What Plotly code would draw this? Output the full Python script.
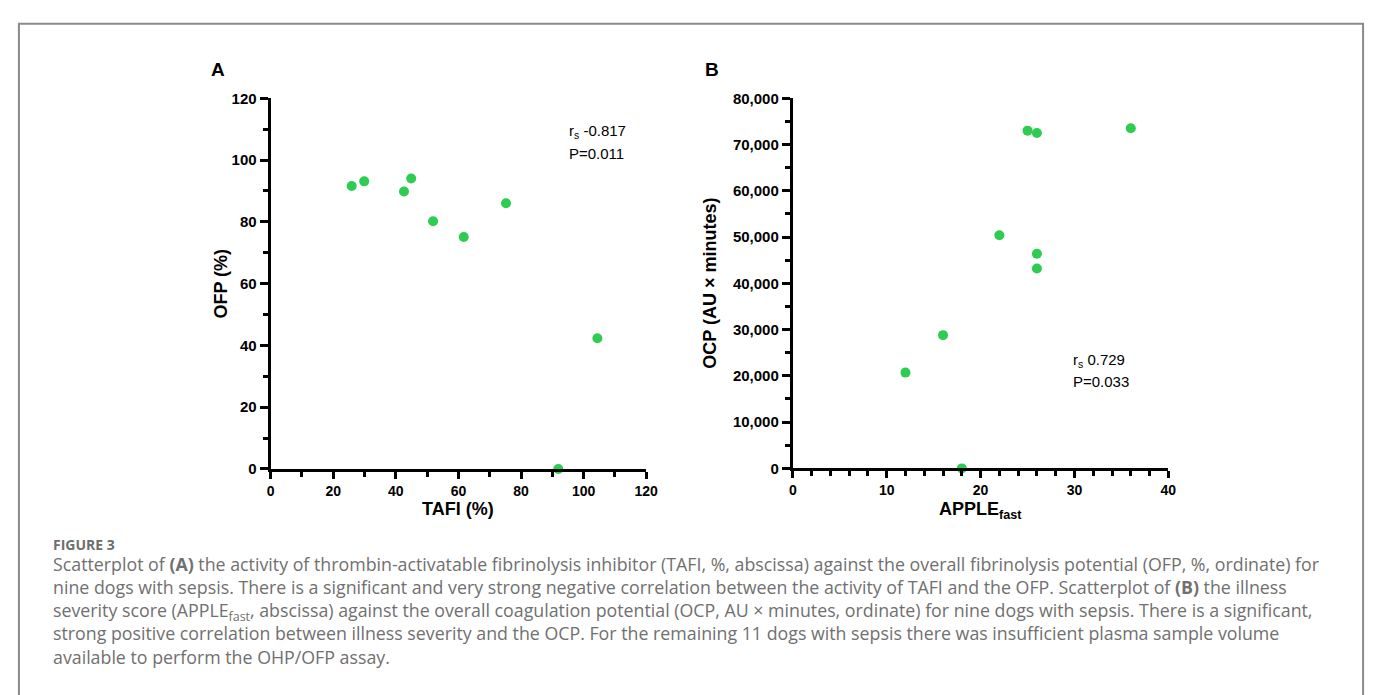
import plotly.graph_objects as go

# ---------------- data ----------------
tafi = [25.9, 29.9, 42.6, 44.9, 51.9, 61.7, 75.2, 91.9, 104.4]
ofp = [91.6, 93.1, 89.8, 94.0, 80.2, 75.1, 86.0, 0.0, 42.3]

apple_fast = [12, 16, 18, 22, 25, 26, 26, 26, 36]
ocp = [20700, 28800, 0, 50400, 73000, 72500, 46400, 43200, 73500]

panel_labels = ["A", "B"]
stat_a = ["r<sub>s</sub> -0.817", "P=0.011"]
stat_b = ["r<sub>s</sub> 0.729", "P=0.033"]

caption_title = "FIGURE 3"
caption_lines = [
    "Scatterplot of <b>(A)</b> the activity of thrombin-activatable fibrinolysis inhibitor (TAFI, %, abscissa) against the overall fibrinolysis potential (OFP, %, ordinate) for",
    "nine dogs with sepsis. There is a significant and very strong negative correlation between the activity of TAFI and the OFP. Scatterplot of <b>(B)</b> the illness",
    "severity score (APPLE<sub>fast</sub>, abscissa) against the overall coagulation potential (OCP, AU × minutes, ordinate) for nine dogs with sepsis. There is a significant,",
    "strong positive correlation between illness severity and the OCP. For the remaining 11 dogs with sepsis there was insufficient plasma sample volume",
    "available to perform the OHP/OFP assay.",
]

W, H = 1373, 695
def fx(px):
    return px / W
def fy(py):
    return 1 - py / H

GREEN = "rgb(46,204,80)"
AX_FONT = "Liberation Sans, Arial, sans-serif"
CAP_FONT = "Open Sans, Noto Sans, sans-serif"

fig = go.Figure()
fig.add_trace(go.Scatter(x=tafi, y=ofp, mode="markers", xaxis="x", yaxis="y",
                         marker=dict(color=GREEN, size=10, line=dict(width=0)),
                         cliponaxis=False, showlegend=False))
fig.add_trace(go.Scatter(x=apple_fast, y=ocp, mode="markers", xaxis="x2", yaxis="y2",
                         marker=dict(color=GREEN, size=10, line=dict(width=0)),
                         cliponaxis=False, showlegend=False))

common = dict(showgrid=False, zeroline=False, showline=True, linecolor="black", linewidth=3,
              ticks="outside", tickwidth=2.5, tickcolor="black", fixedrange=True)

fig.update_layout(
    width=W, height=H, margin=dict(l=0, r=0, t=0, b=0),
    paper_bgcolor="white", plot_bgcolor="white",
    xaxis=dict(domain=[fx(261.7), fx(641.7)], range=[0, 120], anchor="y", dtick=20, tick0=0, ticklen=7,
               minor=dict(dtick=10, ticks="outside", ticklen=5, tickwidth=2.5, tickcolor="black"),
               tickfont=dict(family=AX_FONT, size=14, color="black", weight="bold"), **common),
    yaxis=dict(domain=[fy(463.3), fy(83.3)], range=[0, 120], anchor="x", dtick=20, tick0=0, ticklen=8,
               minor=dict(dtick=10, ticks="outside", ticklen=5, tickwidth=2.5, tickcolor="black"),
               tickfont=dict(family=AX_FONT, size=15, color="black", weight="bold"), **common),
    xaxis2=dict(domain=[fx(790), fx(1170)], range=[0, 40], anchor="y2", dtick=10, tick0=0, ticklen=7,
                minor=dict(dtick=2, ticks="outside", ticklen=5, tickwidth=2.5, tickcolor="black"),
                tickfont=dict(family=AX_FONT, size=14, color="black", weight="bold"), **common),
    yaxis2=dict(domain=[fy(462.7), fy(83.3)], range=[0, 80000], anchor="x2", dtick=10000, tick0=0,
                tickformat=",d", ticklen=8,
                minor=dict(dtick=5000, ticks="outside", ticklen=5, tickwidth=2.5, tickcolor="black"),
                tickfont=dict(family=AX_FONT, size=15, color="black", weight="bold"), **common),
)

ann = []
def add(text, x, y, size, xanchor="center", yanchor="middle", color="black", family=AX_FONT,
        bold=False, angle=0, align="center"):
    ann.append(dict(text=text, x=fx(x), y=fy(y), xref="paper", yref="paper", showarrow=False,
                    xanchor=xanchor, yanchor=yanchor, textangle=angle, align=align, borderpad=0,
                    font=dict(family=family, size=size, color=color,
                              weight="bold" if bold else "normal")))

# panel labels
add(panel_labels[0], 208, 53.5, 19, bold=True)
add(panel_labels[1], 708.5, 53.5, 19, bold=True)

# axis titles
add("OFP (%)", 211.7, 273, 18, bold=True, angle=-90)
add("OCP (AU × minutes)", 706.7, 273, 18, bold=True, angle=-90)
add("TAFI (%)", 451.7, 504, 18, bold=True)
add("APPLE<sub>fast</sub>", 980, 506, 18, bold=True)

# statistics
add(stat_a[0], 563, 117, 15, xanchor="left")
add(stat_a[1], 563, 140, 15, xanchor="left")
add(stat_b[0], 1073, 352, 15, xanchor="left")
add(stat_b[1], 1073, 374, 15, xanchor="left")

# caption
CAP_SIZE = 17.8
add(caption_title, 40, 540.5, 14, xanchor="left", color="#6e6e6e", family=CAP_FONT, bold=True)
add("<br>".join(caption_lines), 40, 562 + 2 * 1.3 * CAP_SIZE, CAP_SIZE, xanchor="left",
    color="#707070", family=CAP_FONT, align="left")

fig.update_layout(annotations=ann)

# outer frame
fig.add_shape(type="rect", xref="paper", yref="paper", x0=fx(7), x1=fx(1367), y0=fy(720), y1=fy(7),
              line=dict(color="#8a8a8a", width=2), fillcolor="rgba(0,0,0,0)", layer="below")

fig.write_html("out.html", config={"displayModeBar": False})
